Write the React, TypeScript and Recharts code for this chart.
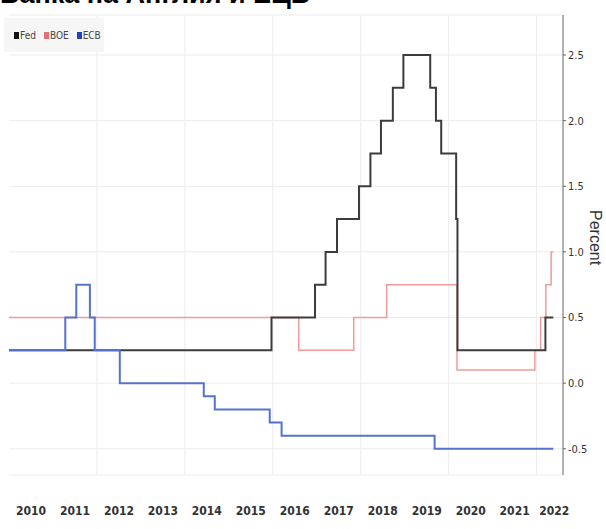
import { LineChart, Line, XAxis, YAxis, CartesianGrid, ReferenceLine } from "recharts";

const fedDates = [2010.0, 2015.97, 2016.96, 2017.2, 2017.46, 2017.96, 2018.22, 2018.46, 2018.73, 2018.97, 2019.58, 2019.71, 2019.83, 2020.17, 2020.2, 2022.2, 2022.38];
const fedRates = [0.25, 0.5, 0.75, 1.0, 1.25, 1.5, 1.75, 2.0, 2.25, 2.5, 2.25, 2.0, 1.75, 1.25, 0.25, 0.5, 0.5];

const boeDates = [2010.0, 2016.59, 2017.84, 2018.59, 2020.19, 2021.96, 2022.09, 2022.21, 2022.33, 2022.38];
const boeRates = [0.5, 0.25, 0.5, 0.75, 0.1, 0.25, 0.5, 0.75, 1.0, 1.0];

const ecbDates = [2010.0, 2011.28, 2011.53, 2011.84, 2011.95, 2012.52, 2014.43, 2014.68, 2015.93, 2016.2, 2019.68, 2022.38];
const ecbRates = [0.25, 0.5, 0.75, 0.5, 0.25, 0, -0.1, -0.2, -0.3, -0.4, -0.5, -0.5];

const yearTicks = [2010.5, 2011.5, 2012.5, 2013.5, 2014.5, 2015.5, 2016.5, 2017.5, 2018.5, 2019.5, 2020.5, 2021.5, 2022.4];
const yearLabels = ["2010", "2011", "2012", "2013", "2014", "2015", "2016", "2017", "2018", "2019", "2020", "2021", "2022"];
const gridYears = [2012, 2014, 2016, 2018, 2020, 2022];
const percentTicks = [-0.5, 0, 0.5, 1.0, 1.5, 2.0, 2.5];

const toPoints = (dates: number[], rates: number[]) => dates.map((t, i) => ({ t, v: rates[i] }));

const series = [
  { name: "BOE", data: toPoints(boeDates, boeRates), color: "#f29a9a", width: 1.5 },
  { name: "Fed", data: toPoints(fedDates, fedRates), color: "#3c3c3c", width: 2 },
  { name: "ECB", data: toPoints(ecbDates, ecbRates), color: "#5473cc", width: 2 },
];

const legend = [
  { name: "Fed", color: "#111111" },
  { name: "BOE", color: "#e07080" },
  { name: "ECB", color: "#2040c0" },
];

const narrow = "'Liberation Sans Narrow', 'DejaVu Sans Condensed', sans-serif";

export default function App() {
  return (
    <div style={{ position: "absolute", left: 0, top: 0, width: 606, height: 529, background: "#fff", overflow: "hidden" }}>
      {/* title is cropped at the top edge in the source image */}
      <div
        style={{
          position: "absolute",
          left: 0,
          top: -21,
          fontFamily: "'Liberation Sans', Arial, sans-serif",
          fontWeight: 700,
          fontSize: 27,
          color: "#000",
          whiteSpace: "nowrap",
        }}
      >
        Банка на Англия и ЕЦБ
      </div>

      <LineChart width={606} height={529} data={[]} margin={{ top: 15, right: 0, bottom: 0, left: 9 }}>
        <CartesianGrid vertical={false} stroke="#ececec" />
        {gridYears.map((y) => (
          <ReferenceLine key={y} x={y} stroke="#ececec" />
        ))}
        <XAxis
          type="number"
          dataKey="t"
          domain={[2010, 2022.6]}
          allowDataOverflow
          ticks={yearTicks}
          tickFormatter={(_v, i) => yearLabels[i]}
          axisLine={false}
          tickLine={false}
          tickSize={0}
          tickMargin={31}
          height={54}
          interval={0}
          tick={{ fill: "#333", fontSize: 12, fontFamily: narrow, fontWeight: 700 }}
        />
        <YAxis
          type="number"
          orientation="right"
          domain={[-0.7, 2.805]}
          allowDataOverflow
          ticks={percentTicks}
          tickFormatter={(v) => v.toFixed(1)}
          axisLine={{ stroke: "#666" }}
          tickLine={{ stroke: "#666" }}
          tickSize={3}
          tickMargin={2}
          width={43}
          tick={{ fill: "#333", fontSize: 11, fontFamily: narrow }}
        />
        {series.map((s) => (
          <Line
            key={s.name}
            data={s.data}
            dataKey="v"
            type="stepAfter"
            stroke={s.color}
            strokeWidth={s.width}
            dot={false}
            isAnimationActive={false}
          />
        ))}
      </LineChart>

      <div
        style={{
          position: "absolute",
          left: 4,
          top: 18,
          width: 100,
          height: 34,
          background: "#f6f6f6",
          display: "flex",
          alignItems: "center",
          gap: 8,
          paddingLeft: 10,
          boxSizing: "border-box",
          fontFamily: narrow,
          fontSize: 10,
          color: "#444",
        }}
      >
        {legend.map((l) => (
          <div key={l.name} style={{ display: "flex", alignItems: "center", gap: 1 }}>
            <span style={{ display: "inline-block", width: 5, height: 7, background: l.color }} />
            <span>{l.name}</span>
          </div>
        ))}
      </div>

      <div
        style={{
          position: "absolute",
          left: 586,
          top: 210,
          writingMode: "vertical-rl",
          fontFamily: "'Liberation Sans', Arial, sans-serif",
          fontSize: 16,
          lineHeight: "18px",
          color: "#333",
        }}
      >
        Percent
      </div>
    </div>
  );
}
